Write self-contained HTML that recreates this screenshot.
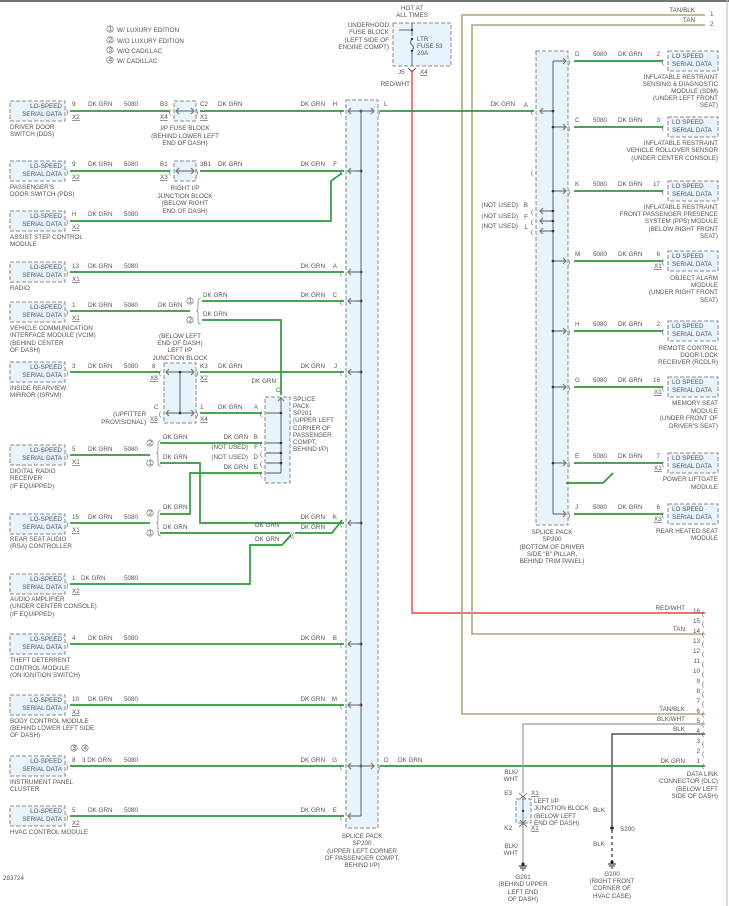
<!DOCTYPE html>
<html><head><meta charset="utf-8"><style>
html,body{margin:0;padding:0;background:#fff}
svg{display:block}
text{font-family:"Liberation Sans",sans-serif;font-size:6.3px;fill:#555}
.g{stroke:#2f9a3a;stroke-width:1.7;fill:none}
.b{fill:#e8f4fc;stroke:#8a8a8a;stroke-dasharray:4 2;stroke-width:1}
.s{stroke:#777;stroke-width:1.2;fill:none}
.r{text-anchor:end}
.m{text-anchor:middle}
.u{text-decoration:underline}
</style></head><body>
<svg width="729" height="906" viewBox="0 0 729 906" xmlns="http://www.w3.org/2000/svg">
<line x1="0" y1="1" x2="729" y2="1" stroke="#444" stroke-width="1.5"/>
<line x1="727" y1="0" x2="727" y2="906" stroke="#bbb" stroke-width="1"/>

<!-- legend -->
<g>
<circle cx="110" cy="29" r="3.2" fill="none" stroke="#666" stroke-width=".6"/><text x="108.5" y="31" font-size="4.5">1</text><text x="117" y="32">W/ LUXURY EDITION</text>
<circle cx="110" cy="40" r="3.2" fill="none" stroke="#666" stroke-width=".6"/><text x="108.5" y="42" font-size="4.5">2</text><text x="117" y="43">W/O LUXURY EDITION</text>
<circle cx="110" cy="50" r="3.2" fill="none" stroke="#666" stroke-width=".6"/><text x="108.5" y="52" font-size="4.5">3</text><text x="117" y="53">W/O CADILLAC</text>
<circle cx="110" cy="60" r="3.2" fill="none" stroke="#666" stroke-width=".6"/><text x="108.5" y="62" font-size="4.5">4</text><text x="117" y="63">W/ CADILLAC</text>
</g>

<!-- fuse block -->
<text x="412" y="10" class="m">HOT AT</text><text x="412" y="17" class="m">ALL TIMES</text>
<text x="389" y="27" class="r">UNDERHOOD</text><text x="389" y="34" class="r">FUSE BLOCK</text><text x="389" y="42" class="r">(LEFT SIDE OF</text><text x="389" y="49" class="r">ENGINE COMPT)</text>
<rect x="393" y="23" width="58" height="43" class="b"/>
<line x1="412" y1="23" x2="412" y2="36" stroke="#666"/><line x1="412" y1="30" x2="399" y2="30" stroke="#666"/><circle cx="412" cy="30" r="1.2" fill="#333"/>
<path d="M412 39 q-3 4 0 6 q3 2 0 6" stroke="#666" fill="none"/><circle cx="412" cy="39" r="1.2" fill="#333"/><circle cx="412" cy="51" r="1.2" fill="#333"/>
<line x1="412" y1="51" x2="412" y2="66" stroke="#666"/>
<text x="417" y="41">LTR</text><text x="417" y="48">FUSE 53</text><text x="417" y="55">20A</text>
<text x="398" y="74">J5</text><text x="420" y="74" class="u">X4</text>
<text x="410" y="86" class="r">RED/WHT</text>
<path d="M408 68 l4 4 l4 -4" stroke="#666" fill="none"/>
<path d="M412 70 V613 H705" stroke="#f04040" stroke-width="1.4" fill="none"/>

<!-- tan wires -->
<path d="M705 15 H462 V714 H705" stroke="#b5a47a" stroke-width="1.6" fill="none"/>
<path d="M705 25 H472 V634 H705" stroke="#b5a47a" stroke-width="1.6" fill="none"/>
<text x="695" y="12" class="r">TAN/BLK</text><text x="710" y="16">1</text>
<text x="695" y="22" class="r">TAN</text><text x="710" y="26">2</text>

<!-- SP200 -->
<rect x="346" y="100" width="32" height="728" class="b"/>
<line x1="361" y1="111" x2="361" y2="816" class="s"/>
<g fill="#333">
<circle cx="361" cy="111" r="1.4"/><circle cx="361" cy="171" r="1.4"/><circle cx="361" cy="272" r="1.4"/><circle cx="361" cy="301" r="1.4"/><circle cx="361" cy="372" r="1.4"/><circle cx="361" cy="523" r="1.4"/><circle cx="361" cy="644" r="1.4"/><circle cx="361" cy="705" r="1.4"/><circle cx="361" cy="766" r="1.4"/>
</g>
<g class="s">
<path d="M361 111H348 M351 108l-3 3 3 3"/><path d="M361 111H374 M371 108l3 3-3 3"/>
<path d="M361 171H348 M351 168l-3 3 3 3"/><path d="M361 272H348 M351 269l-3 3 3 3"/><path d="M361 301H348 M351 298l-3 3 3 3"/>
<path d="M361 372H348 M351 369l-3 3 3 3"/><path d="M361 523H348 M351 520l-3 3 3 3"/><path d="M361 644H348 M351 641l-3 3 3 3"/>
<path d="M361 705H348 M351 702l-3 3 3 3"/><path d="M361 766H348 M351 763l-3 3 3 3"/><path d="M361 766H374 M371 763l3 3-3 3"/><path d="M361 816H348 M351 813l-3 3 3 3"/>
</g>
<g font-size="9" fill="#555">
<text x="340" y="114">(</text><text x="340" y="174">(</text><text x="340" y="275">(</text><text x="340" y="304">(</text><text x="340" y="375">(</text><text x="340" y="526">(</text><text x="340" y="647">(</text><text x="340" y="708">(</text><text x="340" y="769">(</text><text x="340" y="819">(</text><text x="378" y="114">)</text><text x="378" y="769">)</text>
</g>
<text x="337" y="106" class="r">H</text><text x="337" y="166" class="r">F</text><text x="337" y="268" class="r">A</text><text x="337" y="297" class="r">C</text><text x="337" y="368" class="r">J</text><text x="337" y="519" class="r">K</text><text x="337" y="640" class="r">B</text><text x="337" y="701" class="r">M</text><text x="337" y="762" class="r">G</text><text x="337" y="812" class="r">E</text>
<text x="384" y="106">L</text><text x="384" y="762">D</text>
<text x="325" y="106" class="r">DK GRN</text><text x="325" y="166" class="r">DK GRN</text><text x="325" y="268" class="r">DK GRN</text><text x="325" y="297" class="r">DK GRN</text><text x="325" y="368" class="r">DK GRN</text><text x="325" y="519" class="r">DK GRN</text><text x="325" y="529" class="r">DK GRN</text><text x="325" y="640" class="r">DK GRN</text><text x="325" y="701" class="r">DK GRN</text><text x="325" y="762" class="r">DK GRN</text><text x="325" y="812" class="r">DK GRN</text>
<text x="362" y="838" class="m">SPLICE PACK</text><text x="362" y="845" class="m">SP200</text><text x="362" y="853" class="m">(UPPER LEFT CORNER</text><text x="362" y="860" class="m">OF PASSENGER COMPT,</text><text x="362" y="867" class="m">BEHIND I/P)</text>

<!-- left modules -->
<g>
<rect x="10" y="101" width="55" height="20" class="b"/><text x="62" y="108" class="r">LO-SPEED</text><text x="62" y="116" class="r">SERIAL DATA</text>
<rect x="10" y="161" width="55" height="20" class="b"/><text x="62" y="168" class="r">LO-SPEED</text><text x="62" y="176" class="r">SERIAL DATA</text>
<rect x="10" y="211" width="55" height="20" class="b"/><text x="62" y="218" class="r">LO-SPEED</text><text x="62" y="226" class="r">SERIAL DATA</text>
<rect x="10" y="262" width="55" height="20" class="b"/><text x="62" y="269" class="r">LO-SPEED</text><text x="62" y="277" class="r">SERIAL DATA</text>
<rect x="10" y="302" width="55" height="20" class="b"/><text x="62" y="309" class="r">LO-SPEED</text><text x="62" y="317" class="r">SERIAL DATA</text>
<rect x="10" y="362" width="55" height="20" class="b"/><text x="62" y="369" class="r">LO-SPEED</text><text x="62" y="377" class="r">SERIAL DATA</text>
<rect x="10" y="445" width="55" height="20" class="b"/><text x="62" y="452" class="r">LO-SPEED</text><text x="62" y="460" class="r">SERIAL DATA</text>
<rect x="10" y="514" width="55" height="20" class="b"/><text x="62" y="521" class="r">LO-SPEED</text><text x="62" y="529" class="r">SERIAL DATA</text>
<rect x="10" y="574" width="55" height="20" class="b"/><text x="62" y="581" class="r">LO-SPEED</text><text x="62" y="589" class="r">SERIAL DATA</text>
<rect x="10" y="634" width="55" height="20" class="b"/><text x="62" y="641" class="r">LO-SPEED</text><text x="62" y="649" class="r">SERIAL DATA</text>
<rect x="10" y="695" width="55" height="20" class="b"/><text x="62" y="702" class="r">LO-SPEED</text><text x="62" y="710" class="r">SERIAL DATA</text>
<rect x="10" y="756" width="55" height="20" class="b"/><text x="62" y="763" class="r">LO-SPEED</text><text x="62" y="771" class="r">SERIAL DATA</text>
<rect x="10" y="806" width="55" height="20" class="b"/><text x="62" y="813" class="r">LO-SPEED</text><text x="62" y="821" class="r">SERIAL DATA</text>
</g>
<g font-size="9" fill="#555">
<text x="66" y="114">)</text><text x="66" y="174">)</text><text x="66" y="224">)</text><text x="66" y="275">)</text><text x="66" y="314">)</text><text x="66" y="375">)</text><text x="66" y="458">)</text><text x="66" y="526">)</text><text x="66" y="587">)</text><text x="66" y="647">)</text><text x="66" y="708">)</text><text x="66" y="769">)</text><text x="66" y="819">)</text>
</g>
<!-- pin/ckt labels -->
<text x="72" y="106">9</text><text x="88" y="106">DK GRN</text><text x="124" y="106">5080</text><text x="72" y="119" class="u">X2</text>
<text x="72" y="166">9</text><text x="88" y="166">DK GRN</text><text x="124" y="166">5080</text><text x="72" y="179" class="u">X2</text>
<text x="72" y="216">H</text><text x="88" y="216">DK GRN</text><text x="124" y="216">5080</text><text x="72" y="229" class="u">X2</text>
<text x="72" y="268">13</text><text x="88" y="268">DK GRN</text><text x="124" y="268">5080</text><text x="72" y="281" class="u">X1</text>
<text x="72" y="307">1</text><text x="88" y="307">DK GRN</text><text x="124" y="307">5080</text><text x="72" y="320" class="u">X1</text><text x="158" y="307">DK GRN</text>
<text x="72" y="368">3</text><text x="88" y="368">DK GRN</text><text x="124" y="368">5080</text>
<text x="72" y="451">5</text><text x="88" y="451">DK GRN</text><text x="124" y="451">5080</text><text x="72" y="464" class="u">X1</text>
<text x="72" y="519">15</text><text x="88" y="519">DK GRN</text><text x="124" y="519">5080</text><text x="72" y="532" class="u">X1</text>
<text x="72" y="580">1</text><text x="81" y="580">DK GRN</text><text x="124" y="580">5080</text><text x="72" y="593" class="u">X2</text>
<text x="72" y="640">4</text><text x="88" y="640">DK GRN</text><text x="124" y="640">5080</text>
<text x="72" y="701">10</text><text x="88" y="701">DK GRN</text><text x="124" y="701">5080</text><text x="72" y="714" class="u">X3</text>
<text x="72" y="762">8</text><text x="82" y="762">3 DK GRN</text><text x="124" y="762">5080</text>
<text x="72" y="812">5</text><text x="88" y="812">DK GRN</text><text x="124" y="812">5080</text><text x="72" y="825" class="u">X2</text>
<circle cx="74" cy="748" r="3.2" fill="none" stroke="#666" stroke-width=".6"/><text x="72.5" y="750" font-size="4.5">3</text>
<circle cx="85" cy="748" r="3.2" fill="none" stroke="#666" stroke-width=".6"/><text x="83.5" y="750" font-size="4.5">4</text>
<!-- module names -->
<text x="10" y="129">DRIVER DOOR</text><text x="10" y="136">SWITCH (DDS)</text>
<text x="10" y="189">PASSENGER'S</text><text x="10" y="196">DOOR SWITCH (PDS)</text>
<text x="10" y="239">ASSIST STEP CONTROL</text><text x="10" y="246">MODULE</text>
<text x="10" y="290">RADIO</text>
<text x="10" y="330">VEHICLE COMMUNICATION</text><text x="10" y="337">INTERFACE MODULE (VCIM)</text><text x="10" y="345">(BEHIND CENTER</text><text x="10" y="352">OF DASH)</text>
<text x="10" y="390">INSIDE REARVIEW</text><text x="10" y="397">MIRROR (ISRVM)</text>
<text x="10" y="473">DIGITAL RADIO</text><text x="10" y="480">RECEIVER</text><text x="10" y="488">(IF EQUIPPED)</text>
<text x="10" y="541">REAR SEAT AUDIO</text><text x="10" y="548">(RSA) CONTROLLER</text>
<text x="10" y="601">AUDIO AMPLIFIER</text><text x="10" y="608">(UNDER CENTER CONSOLE)</text><text x="10" y="616">(IF EQUIPPED)</text>
<text x="10" y="662">THEFT DETERRENT</text><text x="10" y="670">CONTROL MODULE</text><text x="10" y="677">(ON IGNITION SWITCH)</text>
<text x="10" y="723">BODY CONTROL MODULE</text><text x="10" y="730">(BEHIND LOWER LEFT SIDE</text><text x="10" y="737">OF DASH)</text>
<text x="10" y="784">INSTRUMENT PANEL</text><text x="10" y="791">CLUSTER</text>
<text x="10" y="834">HVAC CONTROL MODULE</text>

<!-- IP fuse block & right IP JB -->
<rect x="174" y="101" width="22" height="20" class="b"/><path d="M176 111H194 M179 108l-3 3 3 3 M191 108l3 3-3 3" class="s"/>
<rect x="174" y="161" width="22" height="20" class="b"/><path d="M176 171H194 M179 168l-3 3 3 3 M191 168l3 3-3 3" class="s"/>
<g font-size="9" fill="#555"><text x="169" y="114">(</text><text x="196" y="114">)</text><text x="169" y="174">(</text><text x="196" y="174">)</text>
<text x="159" y="375">(</text><text x="196" y="375">)</text><text x="159" y="416">(</text><text x="196" y="416">)</text></g>
<text x="160" y="106">B3</text><text x="200" y="106">C2</text><text x="160" y="119" class="u">X4</text><text x="200" y="119" class="u">X1</text><text x="218" y="106">DK GRN</text>
<text x="160" y="166">B1</text><text x="200" y="166">3B1</text><text x="160" y="179" class="u">X3</text><text x="218" y="166">DK GRN</text>
<text x="185" y="130" class="m">I/P FUSE BLOCK</text><text x="185" y="138" class="m">(BEHIND LOWER LEFT</text><text x="185" y="145" class="m">END OF DASH)</text>
<text x="185" y="190" class="m">RIGHT I/P</text><text x="185" y="198" class="m">JUNCTION BLOCK</text><text x="185" y="205" class="m">(BELOW RIGHT</text><text x="185" y="213" class="m">END OF DASH)</text>

<!-- green wires left -->
<path d="M70 111H170 M200 111H344" class="g"/>
<path d="M70 171H170 M200 171H344" class="g"/>
<path d="M70 221H331V181L342 173" class="g"/>
<path d="M70 272H344" class="g"/>
<path d="M70 311H190" class="g"/>
<path d="M202 301H344" class="g"/>
<path d="M202 320H281V395" class="g"/>
<path d="M70 372H160 M200 372H344" class="g"/>
<path d="M200 413H262" class="g"/>
<path d="M70 455H150" class="g"/>
<path d="M160 443H262" class="g"/>
<path d="M160 463H200V523H344" class="g"/>
<path d="M262 473H190V514H160" class="g"/>
<path d="M70 523H150" class="g"/>
<path d="M160 533H290 M295 533H332L342 520" class="g"/>
<path d="M291 535L282 545H250V584H70" class="g"/>
<path d="M70 644H344 M70 705H344 M70 766H344 M70 816H344" class="g"/>
<path d="M380 111H534" class="g"/>
<path d="M380 766H705" class="g"/>
<text x="290" y="537" font-size="8" fill="#555">((</text>
<text x="255" y="527">DK GRN</text><text x="255" y="541">DK GRN</text>

<!-- VCIM / DRR / RSA braces -->
<g fill="none" stroke="#666" stroke-width=".6">
<circle cx="190" cy="301" r="3.2"/><circle cx="190" cy="320" r="3.2"/>
<circle cx="150" cy="443" r="3.2"/><circle cx="150" cy="463" r="3.2"/>
<circle cx="150" cy="513" r="3.2"/><circle cx="150" cy="533" r="3.2"/>
<path d="M201 298q-3 0-3 3v8q0 2-2 2 2 0 2 2v8q0 3 3 3"/>
<path d="M161 440q-3 0-3 3v8q0 2-2 2 2 0 2 2v8q0 3 3 3"/>
<path d="M161 510q-3 0-3 3v8q0 2-2 2 2 0 2 2v8q0 3 3 3"/>
</g>
<g font-size="4.5" fill="#555"><text x="188.5" y="303">1</text><text x="188.5" y="322">2</text><text x="148.5" y="445">2</text><text x="148.5" y="465">1</text><text x="148.5" y="515">2</text><text x="148.5" y="535">1</text></g>
<text x="203" y="297">DK GRN</text><text x="203" y="316">DK GRN</text>
<text x="163" y="439">DK GRN</text><text x="163" y="459">DK GRN</text>
<text x="163" y="509">DK GRN</text><text x="163" y="529">DK GRN</text>

<!-- Left IP JB -->
<rect x="164" y="363" width="32" height="60" class="b"/>
<path d="M166 372H194 M166 413H194 M180 372V413 M169 369l-3 3 3 3 M191 369l3 3-3 3 M169 410l-3 3 3 3 M191 410l3 3-3 3" class="s"/>
<circle cx="180" cy="372" r="1.3" fill="#333"/><circle cx="180" cy="413" r="1.3" fill="#333"/>
<text x="180" y="338" class="m">(BELOW LEFT</text><text x="180" y="345" class="m">END OF DASH)</text><text x="180" y="352" class="m">LEFT I/P</text><text x="180" y="360" class="m">JUNCTION BLOCK</text>
<text x="152" y="368">8</text><text x="150" y="380" class="u">X8</text><text x="200" y="368">K3</text><text x="200" y="380" class="u">X2</text><text x="218" y="368">DK GRN</text>
<text x="154" y="409">C</text><text x="150" y="421" class="u">X5</text><text x="200" y="409">1</text><text x="200" y="421" class="u">X4</text><text x="218" y="409">DK GRN</text>
<text x="146" y="416" class="r">(UPFITTER</text><text x="146" y="424" class="r">PROVISIONAL)</text>

<!-- SP201 -->
<rect x="265" y="397" width="25" height="86" class="b"/>
<path d="M281 397V473 M281 413H266 M281 443H266 M281 453H266 M281 463H266 M281 473H266 M278 401l3-3 3 3" class="s"/>
<g fill="#333"><circle cx="281" cy="413" r="1.3"/><circle cx="281" cy="443" r="1.3"/><circle cx="281" cy="453" r="1.3"/><circle cx="281" cy="463" r="1.3"/></g>
<g font-size="8" fill="#555"><text x="260" y="416">(</text><text x="260" y="446">(</text><text x="260" y="456">(</text><text x="260" y="466">(</text><text x="260" y="476">(</text></g>
<text x="276" y="392">C</text><text x="276" y="383" class="r">DK GRN</text>
<text x="258" y="409" class="r">A</text><text x="258" y="439" class="r">B</text><text x="258" y="449" class="r">F</text><text x="258" y="459" class="r">D</text><text x="258" y="469" class="r">E</text>
<text x="248" y="439" class="r">DK GRN</text><text x="248" y="449" class="r">(NOT USED)</text><text x="248" y="459" class="r">(NOT USED)</text><text x="248" y="469" class="r">DK GRN</text>
<text x="293" y="401">SPLICE</text><text x="293" y="408">PACK</text><text x="293" y="415">SP201</text><text x="293" y="422">(UPPER LEFT</text><text x="293" y="430">CORNER OF</text><text x="293" y="437">PASSENGER</text><text x="293" y="444">COMPT,</text><text x="293" y="451">BEHIND I/P)</text>

<!-- SP300 -->
<rect x="536" y="51" width="32" height="474" class="b"/>
<line x1="553" y1="61" x2="553" y2="514" class="s"/>
<g class="s">
<path d="M553 61H566 M563 58l3 3-3 3"/><path d="M553 127H566 M563 124l3 3-3 3"/><path d="M553 191H566 M563 188l3 3-3 3"/><path d="M553 261H566 M563 258l3 3-3 3"/><path d="M553 331H566 M563 328l3 3-3 3"/><path d="M553 387H566 M563 384l3 3-3 3"/><path d="M553 463H566 M563 460l3 3-3 3"/><path d="M553 514H566 M563 511l3 3-3 3"/>
<path d="M553 111H540 M543 108l-3 3 3 3"/><path d="M553 211H540 M543 208l-3 3 3 3"/><path d="M553 221H540 M543 218l-3 3 3 3"/><path d="M553 231H540 M543 228l-3 3 3 3"/>
</g>
<g fill="#333"><circle cx="553" cy="111" r="1.3"/><circle cx="553" cy="127" r="1.3"/><circle cx="553" cy="191" r="1.3"/><circle cx="553" cy="211" r="1.3"/><circle cx="553" cy="221" r="1.3"/><circle cx="553" cy="231" r="1.3"/><circle cx="553" cy="261" r="1.3"/><circle cx="553" cy="331" r="1.3"/><circle cx="553" cy="387" r="1.3"/><circle cx="553" cy="463" r="1.3"/></g>
<g font-size="9" fill="#555"><text x="531" y="114">(</text><text x="531" y="175">(</text><text x="531" y="214">(</text><text x="531" y="224">(</text><text x="531" y="234">(</text>
<text x="568" y="64">)</text><text x="568" y="130">)</text><text x="568" y="194">)</text><text x="568" y="264">)</text><text x="568" y="334">)</text><text x="568" y="390">)</text><text x="568" y="466">)</text><text x="568" y="517">)</text></g>
<text x="528" y="107" class="r">A</text><text x="515" y="106" class="r">DK GRN</text>
<text x="528" y="207" class="r">B</text><text x="528" y="219" class="r">F</text><text x="528" y="229" class="r">L</text>
<text x="518" y="207" class="r">(NOT USED)</text><text x="518" y="218" class="r">(NOT USED)</text><text x="518" y="228" class="r">(NOT USED)</text>
<text x="552" y="534" class="m">SPLICE PACK</text><text x="552" y="541" class="m">SP300</text><text x="552" y="549" class="m">(BOTTOM OF DRIVER</text><text x="552" y="556" class="m">SIDE "B" PILLAR,</text><text x="552" y="563" class="m">BEHIND TRIM PANEL)</text>

<!-- right modules -->
<path d="M574 61H663 M574 127H663 M574 191H663 M574 261H663 M574 331H663 M574 387H663 M574 463H663 M574 514H663 M566 483H603L613 473" class="g"/>
<g>
<rect x="668" y="51" width="50" height="20" class="b"/><text x="672" y="58">LO SPEED</text><text x="672" y="66">SERIAL DATA</text>
<rect x="668" y="117" width="50" height="20" class="b"/><text x="672" y="124">LO SPEED</text><text x="672" y="132">SERIAL DATA</text>
<rect x="668" y="181" width="50" height="20" class="b"/><text x="672" y="188">LO SPEED</text><text x="672" y="196">SERIAL DATA</text>
<rect x="668" y="251" width="50" height="20" class="b"/><text x="672" y="258">LO SPEED</text><text x="672" y="266">SERIAL DATA</text>
<rect x="668" y="321" width="50" height="20" class="b"/><text x="672" y="328">LO SPEED</text><text x="672" y="336">SERIAL DATA</text>
<rect x="668" y="377" width="50" height="20" class="b"/><text x="672" y="384">LO SPEED</text><text x="672" y="392">SERIAL DATA</text>
<rect x="668" y="453" width="50" height="20" class="b"/><text x="672" y="460">LO SPEED</text><text x="672" y="468">SERIAL DATA</text>
<rect x="668" y="504" width="50" height="20" class="b"/><text x="672" y="511">LO SPEED</text><text x="672" y="519">SERIAL DATA</text>
</g>
<g font-size="9" fill="#555"><text x="662" y="64">(</text><text x="662" y="130">(</text><text x="662" y="194">(</text><text x="662" y="264">(</text><text x="662" y="334">(</text><text x="662" y="390">(</text><text x="662" y="466">(</text><text x="662" y="517">(</text></g>
<text x="575" y="56">D</text><text x="593" y="56">5080</text><text x="618" y="56">DK GRN</text><text x="660" y="56" class="r">2</text>
<text x="575" y="122">C</text><text x="593" y="122">5080</text><text x="618" y="122">DK GRN</text><text x="660" y="122" class="r">3</text>
<text x="575" y="186">K</text><text x="593" y="186">5080</text><text x="618" y="186">DK GRN</text><text x="660" y="186" class="r">17</text>
<text x="575" y="256">M</text><text x="593" y="256">5080</text><text x="618" y="256">DK GRN</text><text x="660" y="256" class="r">6</text><text x="654" y="268" class="u">X1</text>
<text x="575" y="326">H</text><text x="593" y="326">5080</text><text x="618" y="326">DK GRN</text><text x="660" y="326" class="r">2</text>
<text x="575" y="382">G</text><text x="593" y="382">5080</text><text x="618" y="382">DK GRN</text><text x="660" y="382" class="r">16</text><text x="654" y="394" class="u">X1</text>
<text x="575" y="458">E</text><text x="593" y="458">5080</text><text x="618" y="458">DK GRN</text><text x="660" y="458" class="r">7</text><text x="654" y="470" class="u">X1</text>
<text x="575" y="509">J</text><text x="593" y="509">5080</text><text x="618" y="509">DK GRN</text><text x="660" y="509" class="r">6</text><text x="654" y="521" class="u">X3</text>
<g class="r">
<text x="718" y="79" class="r">INFLATABLE RESTRAINT</text><text x="718" y="86" class="r">SENSING &amp; DIAGNOSTIC</text><text x="718" y="93" class="r">MODULE (SDM)</text><text x="718" y="100" class="r">(UNDER LEFT FRONT</text><text x="718" y="107" class="r">SEAT)</text>
<text x="718" y="145" class="r">INFLATABLE RESTRAINT</text><text x="718" y="152" class="r">VEHICLE ROLLOVER SENSOR</text><text x="718" y="160" class="r">(UNDER CENTER CONSOLE)</text>
<text x="718" y="209" class="r">INFLATABLE RESTRAINT</text><text x="718" y="216" class="r">FRONT PASSENGER PRESENCE</text><text x="718" y="223" class="r">SYSTEM (PPS) MODULE</text><text x="718" y="231" class="r">(BELOW RIGHT FRONT</text><text x="718" y="238" class="r">SEAT)</text>
<text x="718" y="280" class="r">OBJECT ALARM</text><text x="718" y="287" class="r">MODULE</text><text x="718" y="294" class="r">(UNDER RIGHT FRONT</text><text x="718" y="302" class="r">SEAT)</text>
<text x="718" y="350" class="r">REMOTE CONTROL</text><text x="718" y="357" class="r">DOOR LOCK</text><text x="718" y="364" class="r">RECEIVER (RCDLR)</text>
<text x="718" y="405" class="r">MEMORY SEAT</text><text x="718" y="413" class="r">MODULE</text><text x="718" y="420" class="r">(UNDER FRONT OF</text><text x="718" y="428" class="r">DRIVER'S SEAT)</text>
<text x="718" y="481" class="r">POWER LIFTGATE</text><text x="718" y="489" class="r">MODULE</text>
<text x="718" y="533" class="r">REAR HEATED SEAT</text><text x="718" y="540" class="r">MODULE</text>
</g>

<!-- DLC -->
<g font-size="7" fill="#555">
<text x="702" y="616">(</text><text x="702" y="626">(</text><text x="702" y="636">(</text><text x="702" y="646">(</text><text x="702" y="656">(</text><text x="702" y="666">(</text><text x="702" y="676">(</text><text x="702" y="686">(</text><text x="702" y="696">(</text><text x="702" y="706">(</text><text x="702" y="716">(</text><text x="702" y="726">(</text><text x="702" y="736">(</text><text x="702" y="746">(</text><text x="702" y="756">(</text><text x="702" y="768">(</text>
</g>
<g>
<text x="700" y="613" class="r">16</text><text x="700" y="623" class="r">15</text><text x="700" y="633" class="r">14</text><text x="700" y="643" class="r">13</text><text x="700" y="653" class="r">12</text><text x="700" y="663" class="r">11</text><text x="700" y="673" class="r">10</text><text x="700" y="683" class="r">9</text><text x="700" y="693" class="r">8</text><text x="700" y="703" class="r">7</text><text x="700" y="713" class="r">6</text><text x="700" y="723" class="r">5</text><text x="700" y="733" class="r">4</text><text x="700" y="743" class="r">3</text><text x="700" y="753" class="r">2</text><text x="700" y="763" class="r">1</text>
<text x="685" y="610" class="r">RED/WHT</text><text x="685" y="631" class="r">TAN</text><text x="685" y="711" class="r">TAN/BLK</text><text x="685" y="721" class="r">BLK/WHT</text><text x="685" y="731" class="r">BLK</text><text x="685" y="763" class="r">DK GRN</text>
<text x="718" y="776" class="r">DATA LINK</text><text x="718" y="783" class="r">CONNECTOR (DLC)</text><text x="718" y="791" class="r">(BELOW LEFT</text><text x="718" y="798" class="r">SIDE OF DASH)</text>
</g>
<text x="398" y="762">DK GRN</text>

<!-- grounds -->
<path d="M705 724H523V793 M523 823V862" stroke="#999" stroke-width="1.2" fill="none"/>
<path d="M705 734H612V826" stroke="#555" stroke-width="1.5" fill="none"/>
<path d="M612 830V862" stroke="#555" stroke-width="1.5" stroke-dasharray="3 3" fill="none"/>
<circle cx="612" cy="828" r="1.8" fill="#222"/><text x="620" y="831">S200</text>
<text x="605" y="812" class="r">BLK</text><text x="605" y="846" class="r">BLK</text>
<path d="M608 864h8 M609 866h6 M611 868h2" stroke="#222"/><circle cx="612" cy="862" r="1.6" fill="#222"/>
<text x="612" y="876" class="m">G200</text><text x="612" y="883" class="m">(RIGHT FRONT</text><text x="612" y="890" class="m">CORNER OF</text><text x="612" y="898" class="m">HVAC CASE)</text>
<rect x="516" y="799" width="15" height="24" class="b"/>
<path d="M523 796V826 M520 799l3-3 3 3 M520 820l3 3 3-3 M519 793l4 4 4-4 M519 827l4-4 4 4" stroke="#666" fill="none" stroke-width=".8"/>
<circle cx="523" cy="811" r="1.2" fill="#333"/>
<text x="518" y="774" class="r">BLK/</text><text x="518" y="781" class="r">WHT</text>
<text x="512" y="795" class="r">E3</text><text x="531" y="795" class="u">X1</text><text x="512" y="830" class="r">K2</text><text x="531" y="830" class="u">X1</text>
<text x="534" y="803">LEFT I/P</text><text x="534" y="810">JUNCTION BLOCK</text><text x="534" y="818">(BELOW LEFT</text><text x="534" y="825">END OF DASH)</text>
<text x="518" y="848" class="r">BLK/</text><text x="518" y="855" class="r">WHT</text>
<path d="M519 866h8 M520 868h6 M522 870h2" stroke="#222"/><circle cx="523" cy="864" r="1.6" fill="#222"/>
<text x="523" y="879" class="m">G201</text><text x="523" y="886" class="m">(BEHIND UPPER</text><text x="523" y="894" class="m">LEFT END</text><text x="523" y="901" class="m">OF DASH)</text>

<text x="3" y="880" font-size="5.5">283724</text>
</svg>
</body></html>
